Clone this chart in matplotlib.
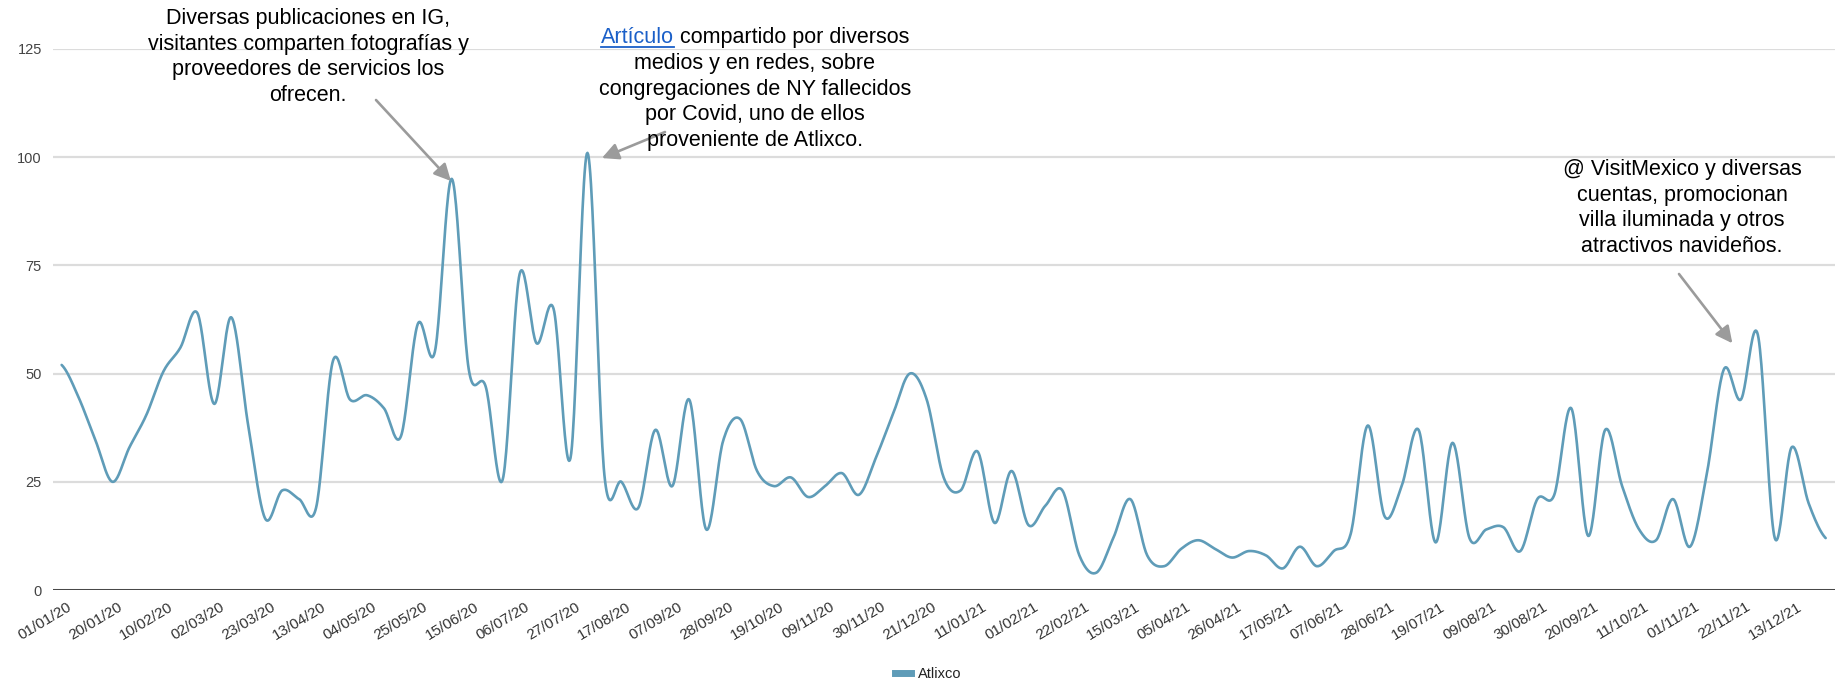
import numpy as np
import matplotlib.pyplot as plt
import matplotlib.transforms as mtransforms
from matplotlib.lines import Line2D

# weekly interest values for "Atlixco" (01/01/20 .. 27/12/21)
atlixco = [52, 44.5, 34.5, 25, 33, 40.5, 50.5, 56, 64, 43,
           63, 38, 16.5, 23, 21, 19, 53, 44, 45, 42,
           35.5, 61.5, 55, 95, 51, 47, 25.5, 73, 57, 65,
           30.5, 101, 26.5, 25, 19, 37, 24, 44, 14, 34.5,
           39.5, 27.5, 24, 26, 21.5, 24, 27, 22, 30.5, 40.5,
           50, 44, 26, 23, 32, 15.5, 27.5, 15, 19.5, 23,
           8, 4, 12, 21, 8, 5.5, 9.5, 11.5, 9.5, 7.5,
           9, 8, 5, 10, 5.5, 9, 13, 38, 17, 24,
           37, 11, 34, 12, 14, 14.5, 9, 21, 22, 42,
           12.5, 37, 24, 14, 11.5, 21, 10, 27, 51, 44,
           59, 12, 33, 20, 12]

tick_labels = ['01/01/20', '20/01/20', '10/02/20', '02/03/20', '23/03/20', '13/04/20',
               '04/05/20', '25/05/20', '15/06/20', '06/07/20', '27/07/20', '17/08/20',
               '07/09/20', '28/09/20', '19/10/20', '09/11/20', '30/11/20', '21/12/20',
               '11/01/21', '01/02/21', '22/02/21', '15/03/21', '05/04/21', '26/04/21',
               '17/05/21', '07/06/21', '28/06/21', '19/07/21', '09/08/21', '30/08/21',
               '20/09/21', '11/10/21', '01/11/21', '22/11/21', '13/12/21']
tick_step = 3

LINE = '#5f9cb8'
GRAY = '#9b9b9b'
W, H = 1839, 683


def smooth(values, steps=24):
    # cubic hermite (catmull-rom) through the weekly points
    y = np.asarray(values, dtype=float)
    yp = np.concatenate([[y[0]], y, [y[-1]]])
    t = np.linspace(0, 1, steps, endpoint=False)
    h00 = 2 * t**3 - 3 * t**2 + 1
    h10 = t**3 - 2 * t**2 + t
    h01 = -2 * t**3 + 3 * t**2
    h11 = t**3 - t**2
    xs, ys = [], []
    for i in range(len(y) - 1):
        m0 = (yp[i + 2] - yp[i]) / 2
        m1 = (yp[i + 3] - yp[i + 1]) / 2
        xs.append(i + t)
        ys.append(h00 * y[i] + h10 * m0 + h01 * y[i + 1] + h11 * m1)
    xs.append([len(y) - 1])
    ys.append([y[-1]])
    return np.concatenate(xs), np.concatenate(ys)


def fx(px):
    return px / W


def fy(py):
    return 1 - py / H


plt.rcParams['font.family'] = ['Liberation Sans', 'DejaVu Sans']

fig = plt.figure(figsize=(W / 100, H / 100), dpi=100)
ax = fig.add_axes([fx(53), fy(590), fx(1835) - fx(53), fy(49) - fy(590)])

x, y = smooth(atlixco)
ax.plot(x, y, color=LINE, lw=1.9, solid_capstyle='round', zorder=3)

ax.set_xlim(-0.51, 104.55)
ax.set_ylim(0, 125)
ax.set_yticks([0, 25, 50, 75, 100, 125])
ax.yaxis.grid(True, color='#dcdcdc', lw=1.6)
ax.set_axisbelow(True)
ax.axhline(0, color='#444444', lw=1.4, zorder=2)
for s in ax.spines.values():
    s.set_visible(False)
ax.tick_params(axis='y', length=0, pad=8, labelsize=10.5, labelcolor='#444444')
ax.tick_params(axis='x', length=0, pad=7, labelsize=11, labelcolor='#333333')
ax.set_xticks(np.arange(len(tick_labels)) * tick_step)
ax.set_xticklabels(tick_labels, rotation=31, ha='right', rotation_mode='anchor')
shift = mtransforms.ScaledTranslation(5 / 100, 0, fig.dpi_scale_trans)
for lab in ax.get_xticklabels():
    lab.set_transform(lab.get_transform() + shift)

# legend
fig.legend(handles=[Line2D([0], [0], color=LINE, lw=5)], labels=['Atlixco'],
           loc='center', bbox_to_anchor=(fx(928), fy(674)), frameon=False,
           handlelength=1.1, handletextpad=0.5, fontsize=10.5, labelcolor='#222222')

fs = 15.5
arrow = dict(arrowstyle='-|>', color=GRAY, lw=1.9, mutation_scale=25, shrinkA=0, shrinkB=0)

# note 1
note1 = ['Diversas publicaciones en IG,', 'visitantes comparten fotografías y',
         'proveedores de servicios los', 'ofrecen.']
for k, line in enumerate(note1):
    fig.text(fx(308), fy(24 + 25.7 * k), line, ha='center', va='baseline', fontsize=fs)
ax.annotate('', xy=(23 - 0.05, atlixco[23] - 0.5), xycoords='data',
            xytext=(fx(376), fy(100)), textcoords='figure fraction', arrowprops=arrow)

# note 2, first word is a link
renderer = fig.canvas.get_renderer()
t1 = fig.text(0, fy(42.7), 'Artículo', color='#1a5fc8', va='baseline', fontsize=fs)
t2 = fig.text(0, fy(42.7), ' compartido por diversos', color='black', va='baseline', fontsize=fs)
w1 = t1.get_window_extent(renderer).width
w2 = t2.get_window_extent(renderer).width
x0 = 755 - (w1 + w2) / 2
t1.set_x(fx(x0))
t2.set_x(fx(x0 + w1))
fig.add_artist(Line2D([fx(x0), fx(x0 + w1)], [fy(46.5), fy(46.5)], color='#1a5fc8', lw=1.3))
note2 = ['medios y en redes, sobre', 'congregaciones de NY fallecidos',
         'por Covid, uno de ellos', 'proveniente de Atlixco.']
for k, line in enumerate(note2):
    fig.text(fx(755), fy(69 + 25.7 * k), line, ha='center', va='baseline', fontsize=fs)
ax.annotate('', xy=(31 + 0.85, atlixco[31] - 1.2), xycoords='data',
            xytext=(fx(665), fy(132)), textcoords='figure fraction', arrowprops=arrow)

# note 3
note3 = ['@ VisitMexico y diversas', 'cuentas, promocionan',
         'villa iluminada y otros', 'atractivos navideños.']
for k, line in enumerate(note3):
    fig.text(fx(1682), fy(175 + 25.6 * k), line, ha='center', va='baseline', fontsize=fs)
ax.annotate('', xy=(98 + 0.5, atlixco[100] - 2), xycoords='data',
            xytext=(fx(1679), fy(274)), textcoords='figure fraction', arrowprops=arrow)

fig.savefig('out.png', dpi=100)
